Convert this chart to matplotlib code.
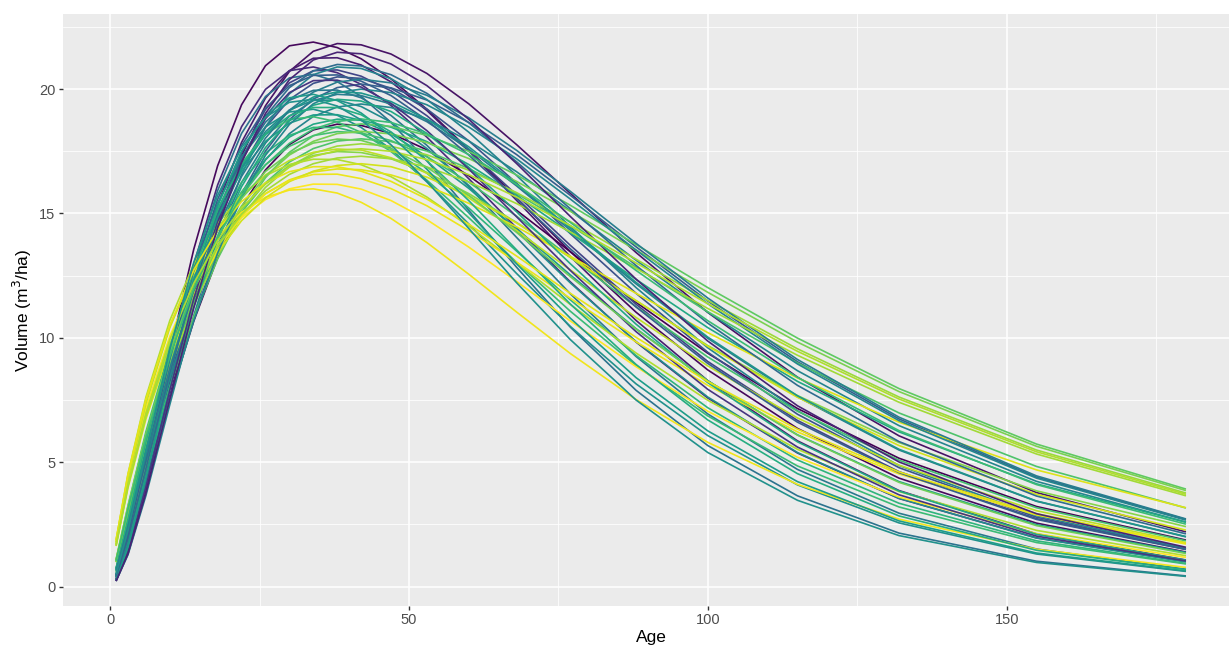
import matplotlib
matplotlib.use("Agg")
import matplotlib.pyplot as plt
from matplotlib.ticker import MultipleLocator

# stand age (years) at which each volume curve was read
ages = [1, 3, 6, 10, 14, 18, 22, 26, 30, 34, 38, 42, 47, 53, 60, 68, 77, 88, 100, 115, 132, 155, 180]

# volume (m3/ha) per curve
curve_01 = [0.30, 1.74, 4.85, 9.41, 13.56, 16.92, 19.37, 20.94, 21.74, 21.89, 21.67, 21.22, 20.41, 19.19, 17.57, 15.63, 13.47, 11.03, 8.71, 6.36, 4.36, 2.55, 1.39]
curve_02 = [0.23, 1.34, 3.82, 7.65, 11.38, 14.66, 17.32, 19.33, 20.71, 21.52, 21.83, 21.78, 21.41, 20.63, 19.41, 17.77, 15.81, 13.43, 11.02, 8.42, 6.06, 3.78, 2.20]
curve_03 = [0.25, 1.48, 4.17, 8.24, 12.08, 15.34, 17.86, 19.64, 20.74, 21.24, 21.26, 20.97, 20.29, 19.14, 17.53, 15.53, 13.27, 10.70, 8.28, 5.86, 3.86, 2.12, 1.07]
curve_04 = [0.28, 1.66, 4.63, 8.98, 12.95, 16.15, 18.49, 19.99, 20.74, 20.89, 20.66, 20.19, 19.34, 18.07, 16.40, 14.42, 12.25, 9.83, 7.58, 5.37, 3.54, 1.96, 1.01]
curve_05 = [0.38, 1.72, 4.20, 7.60, 10.67, 13.23, 15.26, 16.75, 17.77, 18.36, 18.59, 18.54, 18.22, 17.56, 16.52, 15.13, 13.46, 11.43, 9.38, 7.16, 5.16, 3.22, 1.87]
curve_06 = [0.25, 1.45, 4.08, 8.05, 11.80, 14.98, 17.44, 19.18, 20.25, 20.74, 20.77, 20.52, 19.93, 18.93, 17.52, 15.75, 13.72, 11.35, 9.05, 6.68, 4.62, 2.73, 1.50]
curve_07 = [0.42, 1.90, 4.63, 8.37, 11.76, 14.59, 16.82, 18.46, 19.58, 20.23, 20.49, 20.43, 20.03, 19.20, 17.92, 16.22, 14.19, 11.79, 9.42, 6.93, 4.78, 2.79, 1.51]
curve_08 = [0.37, 1.69, 4.17, 7.61, 10.80, 13.54, 15.78, 17.51, 18.77, 19.60, 20.06, 20.20, 20.05, 19.56, 18.66, 17.37, 15.73, 13.66, 11.48, 9.04, 6.74, 4.40, 2.70]
curve_09 = [0.28, 1.64, 4.56, 8.85, 12.76, 15.92, 18.22, 19.70, 20.45, 20.59, 20.30, 19.71, 18.66, 17.12, 15.13, 12.84, 10.43, 7.89, 5.67, 3.65, 2.15, 1.02, 0.43]
curve_10 = [0.45, 2.06, 4.98, 8.90, 12.33, 15.12, 17.21, 18.67, 19.55, 19.95, 19.96, 19.65, 18.94, 17.74, 16.08, 14.04, 11.77, 9.25, 6.94, 4.71, 2.95, 1.51, 0.70]
curve_11 = [0.40, 1.83, 4.47, 8.09, 11.36, 14.09, 16.24, 17.83, 18.91, 19.54, 19.79, 19.74, 19.40, 18.69, 17.59, 16.11, 14.33, 12.17, 9.98, 7.63, 5.49, 3.43, 2.00]
curve_12 = [0.61, 2.29, 4.97, 8.36, 11.31, 13.74, 15.68, 17.15, 18.21, 18.90, 19.28, 19.40, 19.26, 18.79, 17.92, 16.68, 15.11, 13.12, 11.03, 8.68, 6.47, 4.23, 2.59]
curve_13 = [0.44, 2.02, 4.88, 8.72, 12.09, 14.81, 16.87, 18.29, 19.16, 19.55, 19.56, 19.30, 18.67, 17.61, 16.13, 14.29, 12.21, 9.85, 7.62, 5.39, 3.55, 1.95, 0.99]
curve_14 = [0.49, 2.22, 5.31, 9.34, 12.76, 15.41, 17.29, 18.48, 19.08, 19.19, 18.95, 18.46, 17.58, 16.27, 14.58, 12.59, 10.46, 8.15, 6.07, 4.09, 2.56, 1.31, 0.61]
curve_15 = [0.22, 1.28, 3.66, 7.32, 10.89, 14.02, 16.57, 18.49, 19.81, 20.58, 20.89, 20.83, 20.42, 19.58, 18.27, 16.53, 14.47, 12.02, 9.60, 7.07, 4.87, 2.85, 1.54]
curve_16 = [0.73, 2.68, 5.73, 9.45, 12.52, 14.93, 16.69, 17.90, 18.63, 18.96, 18.97, 18.74, 18.20, 17.29, 16.01, 14.39, 12.53, 10.37, 8.27, 6.10, 4.22, 2.49, 1.37]
curve_17 = [0.65, 2.41, 5.22, 8.69, 11.64, 14.02, 15.85, 17.18, 18.07, 18.59, 18.79, 18.75, 18.47, 17.89, 16.97, 15.73, 14.22, 12.35, 10.41, 8.25, 6.22, 4.13, 2.59]
curve_18 = [0.59, 2.19, 4.77, 8.02, 10.84, 13.17, 15.03, 16.44, 17.46, 18.12, 18.49, 18.60, 18.50, 18.14, 17.50, 16.55, 15.33, 13.75, 12.02, 9.99, 7.96, 5.73, 3.92]
curve_19 = [0.71, 2.60, 5.58, 9.20, 12.20, 14.53, 16.25, 17.43, 18.14, 18.46, 18.46, 18.21, 17.62, 16.62, 15.22, 13.49, 11.53, 9.29, 7.19, 5.09, 3.35, 1.84, 0.93]
curve_20 = [0.48, 2.18, 5.22, 9.19, 12.56, 15.17, 17.02, 18.19, 18.78, 18.89, 18.68, 18.26, 17.49, 16.34, 14.83, 13.04, 11.07, 8.89, 6.86, 4.85, 3.20, 1.77, 0.91]
curve_21 = [1.09, 3.26, 6.23, 9.57, 12.23, 14.30, 15.86, 16.96, 17.70, 18.13, 18.29, 18.24, 17.93, 17.28, 16.26, 14.89, 13.24, 11.25, 9.23, 7.05, 5.08, 3.17, 1.84]
curve_22 = [0.99, 2.99, 5.74, 8.88, 11.44, 13.47, 15.05, 16.23, 17.07, 17.61, 17.91, 18.00, 17.89, 17.51, 16.81, 15.80, 14.51, 12.84, 11.05, 8.99, 6.98, 4.83, 3.16]
curve_23 = [0.98, 2.95, 5.67, 8.78, 11.31, 13.32, 14.88, 16.05, 16.88, 17.42, 17.71, 17.80, 17.70, 17.36, 16.74, 15.84, 14.67, 13.16, 11.50, 9.56, 7.62, 5.49, 3.76]
curve_24 = [1.04, 3.12, 5.96, 9.15, 11.70, 13.68, 15.16, 16.22, 16.93, 17.33, 17.49, 17.45, 17.20, 16.65, 15.80, 14.64, 13.23, 11.49, 9.69, 7.68, 5.79, 3.85, 2.41]
curve_25 = [1.87, 4.54, 7.62, 10.70, 12.96, 14.60, 15.75, 16.52, 16.97, 17.18, 17.17, 16.96, 16.48, 15.66, 14.49, 13.02, 11.34, 9.39, 7.49, 5.52, 3.82, 2.26, 1.24]
curve_26 = [1.71, 4.16, 7.03, 9.94, 12.13, 13.76, 14.96, 15.80, 16.35, 16.67, 16.79, 16.76, 16.55, 16.11, 15.41, 14.46, 13.28, 11.79, 10.21, 8.39, 6.61, 4.69, 3.17]
curve_27 = [1.76, 4.27, 7.17, 10.07, 12.20, 13.75, 14.83, 15.56, 15.99, 16.18, 16.17, 15.98, 15.52, 14.75, 13.65, 12.27, 10.68, 8.84, 7.05, 5.20, 3.60, 2.13, 1.17]
curve_28 = [1.87, 4.51, 7.53, 10.49, 12.59, 14.07, 15.05, 15.65, 15.94, 15.99, 15.82, 15.45, 14.80, 13.83, 12.56, 11.04, 9.37, 7.52, 5.80, 4.11, 2.71, 1.50, 0.77]
curve_29 = [1.63, 3.97, 6.74, 9.59, 11.78, 13.45, 14.71, 15.63, 16.28, 16.70, 16.93, 17.00, 16.88, 16.46, 15.71, 14.62, 13.24, 11.50, 9.66, 7.61, 5.67, 3.71, 2.27]
curve_30 = [1.07, 3.20, 6.07, 9.23, 11.70, 13.55, 14.89, 15.79, 16.33, 16.57, 16.58, 16.40, 16.00, 15.31, 14.31, 13.05, 11.59, 9.84, 8.09, 6.22, 4.53, 2.88, 1.71]
curve_31 = [1.79, 4.36, 7.36, 10.41, 12.70, 14.42, 15.67, 16.55, 17.13, 17.46, 17.59, 17.55, 17.24, 16.62, 15.63, 14.32, 12.73, 10.82, 8.87, 6.78, 4.88, 3.05, 1.77]
curve_32 = [0.40, 1.81, 4.43, 8.01, 11.24, 13.95, 16.08, 17.65, 18.72, 19.35, 19.59, 19.52, 19.10, 18.22, 16.86, 15.07, 12.98, 10.55, 8.20, 5.82, 3.84, 2.10, 1.06]
curve_33 = [1.01, 3.04, 5.83, 9.03, 11.63, 13.70, 15.30, 16.50, 17.35, 17.90, 18.21, 18.30, 18.20, 17.85, 17.21, 16.29, 15.09, 13.53, 11.83, 9.83, 7.84, 5.64, 3.86]
curve_34 = [0.36, 1.67, 4.12, 7.54, 10.69, 13.41, 15.62, 17.34, 18.58, 19.41, 19.86, 20.00, 19.86, 19.37, 18.48, 17.20, 15.58, 13.53, 11.37, 8.95, 6.67, 4.36, 2.67]
curve_35 = [0.24, 1.42, 4.00, 7.89, 11.57, 14.69, 17.11, 18.81, 19.86, 20.34, 20.36, 20.08, 19.43, 18.33, 16.79, 14.87, 12.71, 10.25, 7.93, 5.61, 3.69, 2.03, 1.03]
curve_36 = [0.27, 1.58, 4.38, 8.51, 12.26, 15.30, 17.51, 18.93, 19.65, 19.79, 19.54, 19.04, 18.13, 16.78, 15.03, 12.98, 10.79, 8.40, 6.26, 4.22, 2.64, 1.35, 0.63]
curve_37 = [0.43, 1.94, 4.75, 8.58, 12.04, 14.94, 17.23, 18.91, 20.06, 20.73, 20.99, 20.93, 20.58, 19.83, 18.65, 17.08, 15.19, 12.91, 10.59, 8.09, 5.83, 3.64, 2.12]
curve_38 = [1.65, 4.04, 6.86, 9.76, 11.98, 13.68, 14.97, 15.91, 16.57, 17.00, 17.23, 17.30, 17.20, 16.87, 16.27, 15.40, 14.26, 12.79, 11.18, 9.30, 7.41, 5.33, 3.65]
curve_39 = [0.47, 2.12, 5.13, 9.16, 12.70, 15.57, 17.73, 19.23, 20.14, 20.55, 20.57, 20.32, 19.74, 18.75, 17.35, 15.60, 13.58, 11.24, 8.97, 6.61, 4.58, 2.70, 1.49]
curve_40 = [0.69, 2.56, 5.52, 9.20, 12.32, 14.84, 16.78, 18.18, 19.13, 19.68, 19.89, 19.84, 19.50, 18.79, 17.68, 16.19, 14.40, 12.23, 10.03, 7.67, 5.52, 3.44, 2.01]
curve_41 = [0.74, 2.72, 5.82, 9.60, 12.72, 15.16, 16.96, 18.18, 18.93, 19.26, 19.26, 18.97, 18.28, 17.12, 15.52, 13.54, 11.36, 8.93, 6.70, 4.54, 2.84, 1.46, 0.68]
curve_42 = [1.07, 3.21, 6.13, 9.41, 12.03, 14.07, 15.60, 16.69, 17.41, 17.83, 17.99, 17.94, 17.59, 16.86, 15.73, 14.24, 12.46, 10.35, 8.27, 6.09, 4.19, 2.45, 1.33]
curve_43 = [0.65, 2.41, 5.23, 8.79, 11.89, 14.45, 16.49, 18.03, 19.15, 19.88, 20.28, 20.40, 20.25, 19.75, 18.85, 17.54, 15.89, 13.80, 11.60, 9.13, 6.81, 4.45, 2.72]
curve_44 = [1.84, 4.46, 7.48, 10.51, 12.73, 14.34, 15.48, 16.23, 16.68, 16.88, 16.88, 16.70, 16.29, 15.58, 14.57, 13.29, 11.79, 10.02, 8.24, 6.33, 4.61, 2.93, 1.74]
curve_45 = [0.22, 1.32, 3.76, 7.53, 11.20, 14.43, 17.05, 19.02, 20.38, 21.17, 21.48, 21.42, 21.01, 20.14, 18.79, 17.01, 14.88, 12.36, 9.87, 7.27, 5.01, 2.93, 1.58]
curve_46 = [1.04, 3.12, 5.99, 9.27, 11.95, 14.07, 15.72, 16.95, 17.82, 18.39, 18.70, 18.80, 18.66, 18.20, 17.37, 16.17, 14.64, 12.71, 10.69, 8.41, 6.27, 4.10, 2.51]
curve_47 = [1.68, 4.11, 6.97, 9.93, 12.19, 13.92, 15.23, 16.18, 16.86, 17.29, 17.53, 17.60, 17.50, 17.17, 16.56, 15.66, 14.51, 13.01, 11.37, 9.46, 7.54, 5.42, 3.71]
curve_48 = [0.50, 2.26, 5.42, 9.53, 13.03, 15.73, 17.65, 18.87, 19.47, 19.59, 19.32, 18.76, 17.76, 16.29, 14.40, 12.22, 9.93, 7.50, 5.39, 3.47, 2.05, 0.97, 0.41]

volume_curves = [
    curve_01, curve_02, curve_03, curve_04, curve_05, curve_06, curve_07, curve_08,
    curve_09, curve_10, curve_11, curve_12, curve_13, curve_14, curve_15, curve_16,
    curve_17, curve_18, curve_19, curve_20, curve_21, curve_22, curve_23, curve_24,
    curve_25, curve_26, curve_27, curve_28, curve_29, curve_30, curve_31, curve_32,
    curve_33, curve_34, curve_35, curve_36, curve_37, curve_38, curve_39, curve_40,
    curve_41, curve_42, curve_43, curve_44, curve_45, curve_46, curve_47, curve_48,
]

# colour value (0 = purple, 1 = yellow) of each curve
colour_values = [0.02, 0.05, 0.08, 0.12, 0.0, 0.2, 0.25, 0.3, 0.38, 0.4,
                 0.42, 0.45, 0.48, 0.5, 0.45, 0.55, 0.6, 0.75, 0.65, 0.68,
                 0.7, 0.72, 0.85, 0.82, 0.88, 0.95, 1.0, 0.98, 0.93, 0.97,
                 0.9, 0.6, 0.8, 0.46, 0.15, 0.55, 0.35, 0.86, 0.3, 0.52,
                 0.62, 0.78, 0.42, 0.96, 0.1, 0.68, 0.88, 0.5]

x_ticks = [0, 50, 100, 150]
y_ticks = [0, 5, 10, 15, 20]

plt.rcParams["font.family"] = ["Liberation Sans", "DejaVu Sans"]

fig = plt.figure(figsize=(12.29, 6.5), dpi=100)
ax = fig.add_axes([0.0509, 0.0677, 0.9576, 0.9108])

cmap = plt.get_cmap("viridis")
for vols, cv in zip(volume_curves, colour_values):
    ax.plot(ages, vols, color=cmap(cv), linewidth=1.2, solid_capstyle="butt",
            solid_joinstyle="round")

ax.set_facecolor("#EBEBEB")
ax.set_xlim(-7.95, 188.95)
ax.set_ylim(-0.78, 23.02)
ax.set_xticks(x_ticks)
ax.set_yticks(y_ticks)
ax.xaxis.set_minor_locator(MultipleLocator(25))
ax.yaxis.set_minor_locator(MultipleLocator(2.5))
ax.grid(which="major", color="white", linewidth=1.1)
ax.grid(which="minor", color="white", linewidth=0.55)
ax.set_axisbelow(True)
for side in ax.spines.values():
    side.set_visible(False)
ax.tick_params(which="major", length=3, width=1, color="#333333",
               labelcolor="#4D4D4D", labelsize=10.5, pad=2)
ax.tick_params(which="minor", length=0)

ax.set_xlabel("Age", fontsize=12.5, labelpad=2)
ax.set_ylabel("Volume (m$^3$/ha)", fontsize=12.5, labelpad=4)

fig.savefig("out.png", dpi=100)
